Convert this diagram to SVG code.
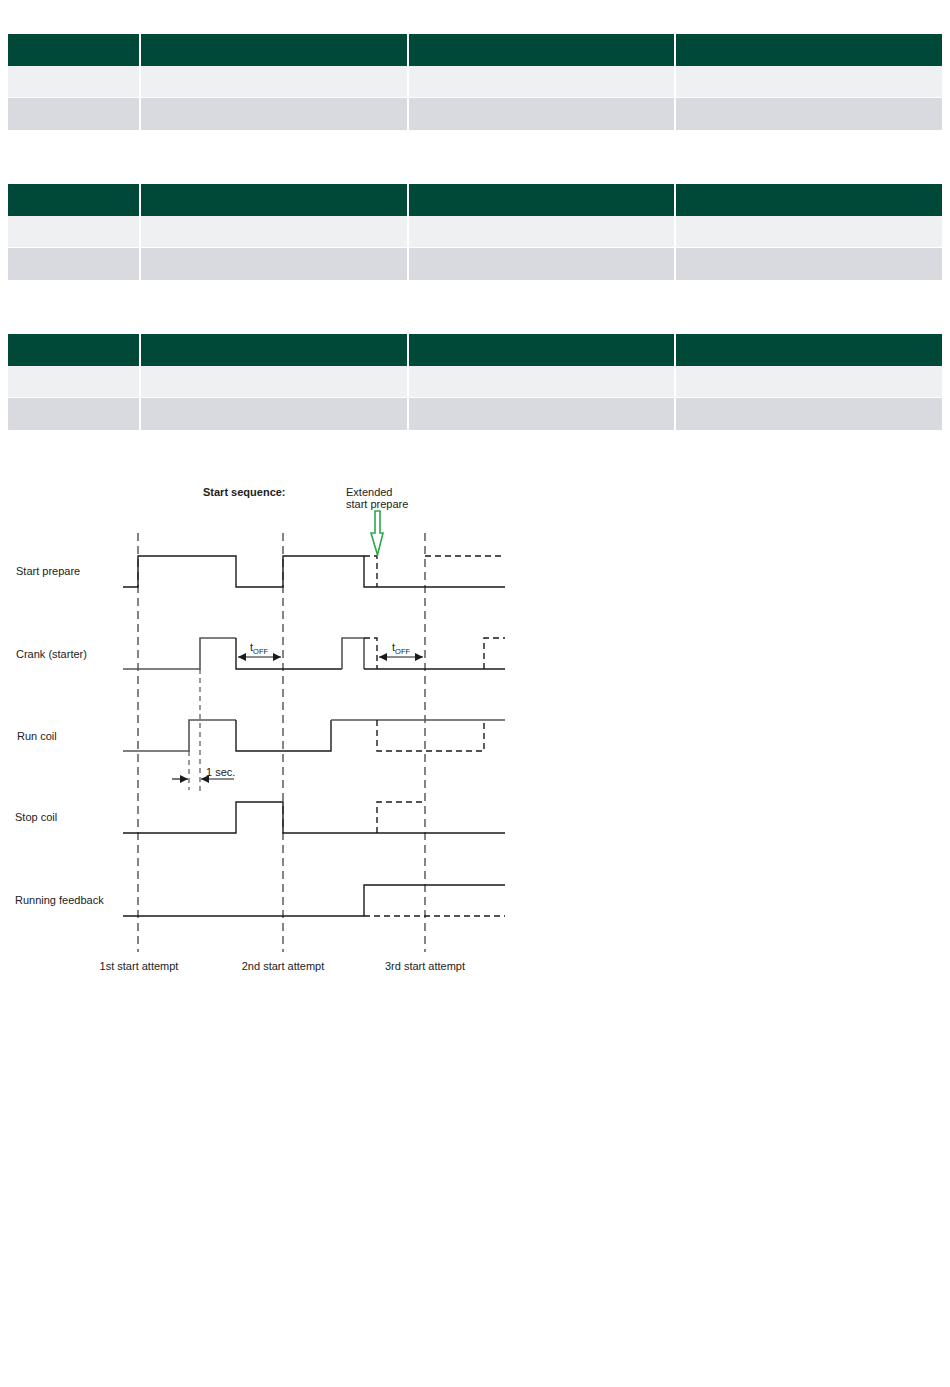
<svg xmlns="http://www.w3.org/2000/svg" width="950" height="1387" viewBox="0 0 950 1387">
<style>
.hd{fill:#004838}
.r1{fill:#eff0f2}
.r2{fill:#d8dae0}
.sig{fill:none;stroke:#1a1a1a;stroke-width:1.4}
.sg{fill:none;stroke:#555;stroke-width:1.6}
.dsh{fill:none;stroke:#1a1a1a;stroke-width:1.4;stroke-dasharray:6,4}
.att{fill:none;stroke:#333;stroke-width:1.2;stroke-dasharray:8,5}
.att2{fill:none;stroke:#666;stroke-width:1.6;stroke-dasharray:8,5}
.sm{fill:none;stroke:#333;stroke-width:1;stroke-dasharray:5,4}
.dim{fill:none;stroke:#1a1a1a;stroke-width:1.2}
text{font-family:"Liberation Sans",Arial,sans-serif;font-size:11px;fill:#222}
.b{font-weight:bold}
.c{text-anchor:middle}
</style>
<defs>
<marker id="ah" viewBox="0 0 10 10" refX="10" refY="5" markerWidth="8" markerHeight="8" orient="auto-start-reverse" markerUnits="userSpaceOnUse">
<path d="M0,0 L10,5 L0,10 z" fill="#1a1a1a"/>
</marker>
<g id="tbl">
<rect class="hd" x="8" y="0" width="131" height="32"/>
<rect class="hd" x="141" y="0" width="266" height="32"/>
<rect class="hd" x="409" y="0" width="265" height="32"/>
<rect class="hd" x="676" y="0" width="266" height="32"/>
<rect class="r1" x="8" y="32" width="131" height="31"/>
<rect class="r1" x="141" y="32" width="266" height="31"/>
<rect class="r1" x="409" y="32" width="265" height="31"/>
<rect class="r1" x="676" y="32" width="266" height="31"/>
<rect class="r2" x="8" y="64" width="131" height="32"/>
<rect class="r2" x="141" y="64" width="266" height="32"/>
<rect class="r2" x="409" y="64" width="265" height="32"/>
<rect class="r2" x="676" y="64" width="266" height="32"/>
</g>
</defs>
<rect width="950" height="1387" fill="#fff"/>
<g id="table1"><use href="#tbl" y="34"/></g>
<g id="table2"><use href="#tbl" y="184"/></g>
<g id="table3"><use href="#tbl" y="334"/></g>

<g id="labels">
<text class="b" x="203" y="496">Start sequence:</text>
<text x="346" y="496">Extended</text>
<text x="346" y="508">start prepare</text>
<text x="16" y="575">Start prepare</text>
<text x="16" y="658">Crank (starter)</text>
<text x="17" y="740">Run coil</text>
<text x="15" y="821">Stop coil</text>
<text x="15" y="904">Running feedback</text>
<text class="c" x="139" y="970">1st start attempt</text>
<text class="c" x="283" y="970">2nd start attempt</text>
<text class="c" x="425" y="970">3rd start attempt</text>
<text x="250" y="651">t<tspan font-size="7.5" dy="3">OFF</tspan></text>
<text x="392" y="651">t<tspan font-size="7.5" dy="3">OFF</tspan></text>
<text x="206" y="776">1 sec.</text>
</g>

<g id="connectors">
<!-- attempt lines -->
<path class="att" d="M138,533 V952"/>
<path class="att2" d="M283,533 V952"/>
<path class="att2" d="M425,533 V952"/>
<!-- start prepare -->
<path class="sig" d="M123,587 H138 V556 H236 V587 H283 V556 H364 V587 H505"/>
<path class="dsh" d="M364,556 H377 V587"/>
<path class="dsh" d="M425,556 H505"/>
<!-- crank -->
<path class="sg" d="M123,669 H200 V638 H236"/>
<path class="sig" d="M236,638 V669 H342"/>
<path class="sg" d="M342,669 V638 H364 V669"/>
<path class="sig" d="M364,669 H505"/>
<path class="dsh" d="M364,638 H377 V669"/>
<path class="dsh" d="M484,669 V638 H505"/>
<path class="dim" d="M238,657 H281" marker-start="url(#ah)" marker-end="url(#ah)"/>
<path class="dim" d="M379,657 H423" marker-start="url(#ah)" marker-end="url(#ah)"/>
<!-- run coil -->
<path class="sg" d="M123,751 H189 V720 H236"/>
<path class="sig" d="M236,720 V751 H331 V720"/>
<path class="sg" d="M331,720 H505"/>
<path class="dsh" d="M377,720 V751 H484 V720"/>
<!-- 1 sec -->
<path class="sm" d="M189,751 V790"/>
<path class="sm" d="M200,669 V792"/>
<path class="dim" d="M172,779 H188" marker-end="url(#ah)"/>
<path class="dim" d="M234,779 H201" marker-end="url(#ah)"/>
<!-- stop coil -->
<path class="sig" d="M123,833 H236 V802 H283 V833 H505"/>
<path class="dsh" d="M377,833 V802 H422"/>
<!-- running feedback -->
<path class="sig" d="M123,916 H364 V885 H505"/>
<path class="dsh" d="M364,916 H505"/>
<!-- green arrow -->
<path d="M375,511 H380 V533 H383 L377.5,555 L371,533 H375 Z" fill="#fff" stroke="#2aa84a" stroke-width="1.6" stroke-linejoin="miter"/>
</g>
</svg>
